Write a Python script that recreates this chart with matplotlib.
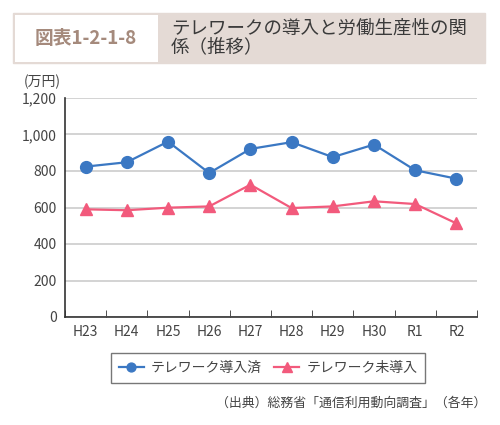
import matplotlib
matplotlib.use("Agg")
import matplotlib.pyplot as plt
from matplotlib.patches import Rectangle

plt.rcParams['font.family'] = ['Noto Sans CJK JP', 'DejaVu Sans']

years = ["H23", "H24", "H25", "H26", "H27", "H28", "H29", "H30", "R1", "R2"]
introduced = [824, 848, 961, 789, 921, 958, 876, 945, 804, 758]
not_introduced = [590, 585, 599, 606, 725, 597, 606, 634, 619, 513]
yticks = [0, 200, 400, 600, 800, 1000, 1200]

blue = '#3b78c3'
pink = '#f25a7c'
text_gray = '#444444'

fig = plt.figure(figsize=(5, 4.25), dpi=100)
W, H = 500, 425

# title banner
fig.patches.append(Rectangle((13 / W, 1 - 63 / H), (485 - 13) / W, 50 / H,
                             transform=fig.transFigure, facecolor='#e4dad5',
                             edgecolor='#e4dad5', lw=1))
fig.patches.append(Rectangle((14.5 / W, 1 - 61.5 / H), (158 - 14.5) / W, 47 / H,
                             transform=fig.transFigure, facecolor='white',
                             edgecolor='none'))
fig.text(86 / W, 1 - 38 / H, "図表1-2-1-8", color='#a58a7c', fontsize=13.5,
         fontweight='bold', ha='center', va='center')
fig.text(171 / W, 1 - 38 / H, "テレワークの導入と労働生産性の関\n係（推移）",
         color='#3a3a3a', fontsize=13.3, ha='left', va='center', linespacing=1.0)

ax = fig.add_axes([65 / W, 1 - 317 / H, (477 - 65) / W, (317 - 98) / H])
x = list(range(len(years)))
ax.plot(x, introduced, color=blue, marker='o', markersize=8.5, lw=1.6,
        label="テレワーク導入済")
ax.plot(x, not_introduced, color=pink, marker='^', markersize=9, lw=1.6,
        label="テレワーク未導入")

ax.set_xlim(-0.5, len(years) - 0.5)
ax.set_ylim(0, 1200)
ax.set_yticks(yticks)
ax.set_yticklabels([f"{v:,}" for v in yticks], fontsize=10, color=text_gray)
ax.set_xticks(x)
ax.set_xticklabels(years, fontsize=10, color=text_gray)
ax.tick_params(axis='x', which='major', length=0, pad=6)
ax.set_xticks([i - 0.5 for i in range(len(years) + 1)], minor=True)
ax.tick_params(axis='x', which='minor', direction='in', length=5, color='#333333')
ax.tick_params(axis='y', length=0, pad=6)
ax.grid(axis='y', color='#cccccc', lw=1.2)
ax.set_axisbelow(True)
for s in ['top', 'right']:
    ax.spines[s].set_visible(False)
for s in ['left', 'bottom']:
    ax.spines[s].set_color('#333333')
    ax.spines[s].set_linewidth(1.2)

fig.text(42 / W, 1 - 82 / H, "(万円)", fontsize=10, color=text_gray,
         ha='center', va='center')

leg = fig.legend(loc='center', bbox_to_anchor=(268 / W, 1 - 368 / H), ncol=2,
                 fontsize=10, frameon=True, fancybox=False, handlelength=1.8,
                 handletextpad=0.5, columnspacing=0.9, borderpad=0.55,
                 markerscale=0.75)
leg.get_frame().set_edgecolor('#555555')
leg.get_frame().set_linewidth(1)
for t in leg.get_texts():
    t.set_color(text_gray)

fig.text(486 / W, 1 - 403 / H, "（出典）総務省「通信利用動向調査」（各年）",
         fontsize=9.3, color=text_gray, ha='right', va='center')

fig.savefig("out.png", dpi=100)
